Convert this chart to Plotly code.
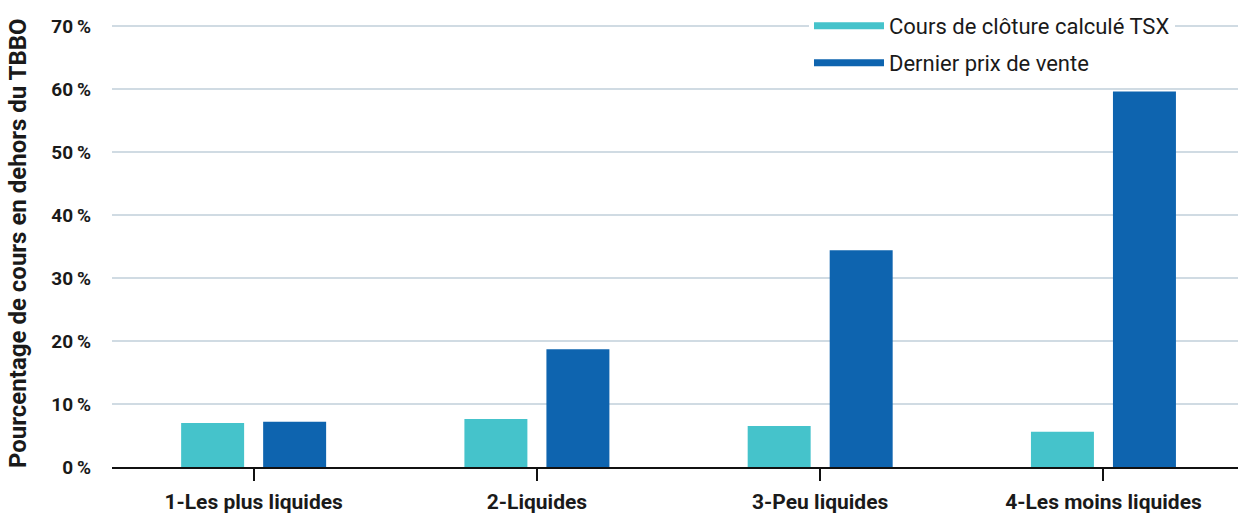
import plotly.graph_objects as go

categories = ["1-Les plus liquides", "2-Liquides", "3-Peu liquides", "4-Les moins liquides"]
tsx_close = [7.0, 7.6, 6.5, 5.6]
last_sale = [7.2, 18.7, 34.4, 59.6]
series_names = ["Cours de clôture calculé TSX", "Dernier prix de vente"]
y_ticks = [0, 10, 20, 30, 40, 50, 60, 70]
y_tick_text = [f"{v}\u2009%" for v in y_ticks]
y_title = "Pourcentage de cours en dehors du TBBO"

TEAL = "#45C3CB"
BLUE = "#0E64AF"
TXT = "#1a1a1a"
FONT = "Roboto"

# plot area spans from the top of the figure down to the zero line (467 px);
# the 70 % gridline sits 26 px below the top
PLOT_H = 467
PLOT_L = 112
PLOT_W = 1238 - PLOT_L
Y_TOP = 70 * PLOT_H / (PLOT_H - 26)

fig = go.Figure()
fig.add_trace(go.Bar(x=categories, y=tsx_close, marker=dict(color=TEAL, line=dict(width=0)),
                     showlegend=False, name=series_names[0]))
fig.add_trace(go.Bar(x=categories, y=last_sale, marker=dict(color=BLUE, line=dict(width=0)),
                     showlegend=False, name=series_names[1]))
# legend entries drawn as lines
fig.add_trace(go.Scatter(x=[None], y=[None], mode="lines", name=series_names[0],
                         line=dict(color=TEAL, width=7), legend="legend"))
fig.add_trace(go.Scatter(x=[None], y=[None], mode="lines", name=series_names[1],
                         line=dict(color=BLUE, width=7), legend="legend2"))

leg_common = dict(xref="paper", yref="paper", xanchor="left", yanchor="middle",
                  bgcolor="white", font=dict(family=FONT, size=22, color=TXT),
                  itemwidth=70, borderwidth=0)

fig.update_layout(
    width=1238, height=514,
    margin=dict(l=PLOT_L, r=0, t=0, b=514 - PLOT_H),
    paper_bgcolor="white", plot_bgcolor="white",
    barmode="group", bargap=0.421, bargroupgap=0.232,
    font=dict(family=FONT, color=TXT),
    legend=dict(x=0.619, y=(PLOT_H - 26) / PLOT_H, **leg_common),
    legend2=dict(x=0.619, y=(PLOT_H - 63) / PLOT_H, **leg_common),
    xaxis=dict(type="category", range=[-0.5, 3.475], showgrid=False, automargin=False,
               showline=True, linecolor="#111111", linewidth=2,
               ticks="outside", ticklen=12, tickwidth=2, tickcolor="#111111",
               ticklabelstandoff=3,
               tickfont=dict(family=FONT, size=21, color=TXT, weight="bold")),
    yaxis=dict(range=[0, Y_TOP], tickmode="array", tickvals=y_ticks, ticktext=y_tick_text,
               showgrid=True, gridcolor="#d0dbe3", gridwidth=1.5, automargin=False,
               zeroline=False, showline=False, ticks="",
               ticklabelstandoff=20,
               tickfont=dict(family=FONT, size=19, color=TXT, weight="bold")),
    annotations=[dict(text=y_title, textangle=-90, showarrow=False,
                      xref="paper", yref="paper",
                      x=(18 - PLOT_L) / PLOT_W, y=(PLOT_H - 243) / PLOT_H,
                      xanchor="center", yanchor="middle",
                      font=dict(family=FONT, size=24, color=TXT, weight="bold"))],
)

fig.write_html("out.html", post_script="document.body.style.margin='0';",
               config={"displayModeBar": False})
